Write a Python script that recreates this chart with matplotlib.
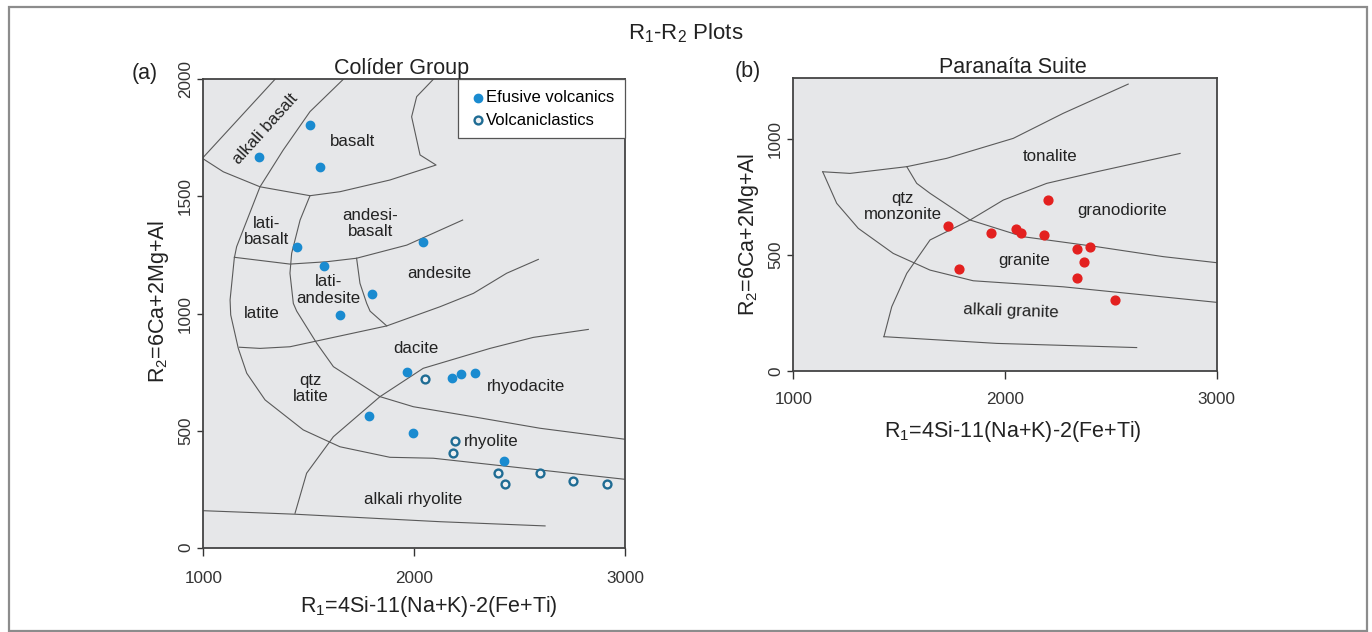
import numpy as np
import matplotlib.pyplot as plt
from matplotlib.patches import Rectangle

plt.rcParams['font.family'] = ['Liberation Sans', 'DejaVu Sans']
plt.rcParams['mathtext.default'] = 'regular'

# ---- Colider Group (a): classification field boundaries (R1, R2) ----
a_alk_basalt = [(1000, 1667), (1340, 2000)]
a_outer = [(1664, 2000), (1506, 1862), (1379, 1698), (1269, 1541), (1158, 1285),
           (1147, 1236), (1127, 1058), (1130, 994), (1166, 851), (1206, 745),
           (1293, 631), (1474, 503), (1648, 431), (1885, 386), (2091, 382), (3000, 292)]
a_basalt_low = [(1000, 1660), (1095, 1605), (1269, 1541), (1506, 1503), (1648, 1520),
                (1885, 1570), (2104, 1634), (2028, 1677), (1988, 1840), (2012, 1926),
                (2091, 2000)]
a_andesi_left = [(1506, 1503), (1459, 1399), (1419, 1257), (1411, 1172), (1427, 1043),
                 (1443, 1010), (1538, 873), (1617, 773), (1838, 645), (1996, 602),
                 (2281, 559), (2597, 510), (3000, 463)]
a_latite_top = [(1147, 1240), (1411, 1211), (1585, 1221), (1727, 1236), (1965, 1292),
                (2230, 1399)]
a_latiand_right = [(1727, 1236), (1743, 1129), (1775, 1043), (1791, 1010), (1870, 947)]
a_dacite_top = [(1171, 856), (1269, 851), (1411, 858), (1870, 947), (2123, 1029),
                (2281, 1086), (2439, 1172), (2589, 1231)]
a_rhyolite_left = [(2826, 932), (2565, 898), (2360, 851), (2043, 766), (1838, 645),
                   (1617, 474), (1490, 318), (1435, 147)]
a_bottom = [(1000, 158), (1435, 143), (2123, 111), (2621, 93)]

a_lines = [a_alk_basalt, a_outer, a_basalt_low, a_andesi_left, a_latite_top,
           a_latiand_right, a_dacite_top, a_rhyolite_left, a_bottom]

# samples
efusive_r1 = [1266, 1506, 1555, 1443, 2040, 1572, 1798, 1648, 1968, 2181, 2222, 2289,
              1787, 1993, 2426]
efusive_r2 = [1667, 1805, 1627, 1283, 1305, 1204, 1083, 992, 750, 725, 743, 747,
              561, 488, 370]
clastic_r1 = [2053, 2192, 2183, 2398, 2431, 2597, 2755, 2913]
clastic_r2 = [719, 457, 403, 318, 272, 318, 285, 272]

a_labels = [('basalt', 1707, 1734), ('lati-\nbasalt', 1300, 1349),
            ('andesi-\nbasalt', 1791, 1385), ('andesite', 2118, 1172),
            ('lati-\nandesite', 1593, 1100), ('latite', 1277, 998),
            ('dacite', 2009, 851), ('qtz\nlatite', 1509, 681),
            ('rhyodacite', 2529, 688), ('rhyolite', 2368, 453),
            ('alkali rhyolite', 1996, 204)]

# ---- Paranaita Suite (b) ----
b_top = [(1139, 859), (1268, 852), (1536, 881), (1725, 917), (2039, 1003),
         (2275, 1111), (2582, 1237)]
b_outer = [(1139, 859), (1205, 723), (1307, 615), (1472, 507), (1646, 435),
           (1850, 389), (2275, 363), (3000, 296)]
b_tonalite_low = [(1536, 881), (1583, 809), (1646, 766), (1835, 651), (2086, 579),
                  (2433, 536), (2748, 493), (3000, 467)]
b_granite_left = [(1428, 148), (1465, 277), (1536, 421), (1646, 565), (1835, 651),
                  (1992, 737), (2197, 809), (2433, 859), (2827, 938)]
b_bottom = [(1428, 148), (1961, 119), (2622, 101)]
b_lines = [b_top, b_outer, b_tonalite_low, b_granite_left, b_bottom]

granite_r1 = [2205, 1729, 1932, 2052, 2074, 2184, 2339, 2402, 2375, 1783, 2342, 2521]
granite_r2 = [737, 625, 595, 612, 596, 586, 527, 536, 470, 440, 400, 307]

b_labels = [('tonalite', 2213, 924), ('qtz\nmonzonite', 1517, 708),
            ('granodiorite', 2554, 691), ('granite', 2090, 475)]

bg = '#e6e7e9'
line_c = '#5a5a5a'
tick_c = '#333333'
txt_c = '#222222'
lab_fs = 12.2


def style_axes(ax, ymax, yticks, xpad, xlabelpad, xlab_x, ylab_y):
    ax.set_facecolor(bg)
    ax.set_xlim(1000, 3000)
    ax.set_ylim(0, ymax)
    ax.set_xticks([1000, 2000, 3000])
    ax.set_yticks(yticks)
    ax.tick_params(direction='out', width=1, colors=tick_c, labelsize=12.3)
    ax.tick_params(axis='x', length=6, pad=xpad)
    ax.tick_params(axis='y', length=4.5, pad=3)
    for lab in ax.get_yticklabels():
        lab.set_rotation(90)
        lab.set_va('center')
    for s in ax.spines.values():
        s.set_color('#444444')
        s.set_linewidth(1.3)
    ax.set_xlabel('R$_1$=4Si-11(Na+K)-2(Fe+Ti)', fontsize=15.5, color=txt_c,
                  labelpad=xlabelpad)
    ax.set_ylabel('R$_2$=6Ca+2Mg+Al', fontsize=15.5, color=txt_c, labelpad=5)
    ax.xaxis.label.set_x(xlab_x)
    ax.yaxis.label.set_y(ylab_y)


fig = plt.figure(figsize=(13.72, 6.32), dpi=100)

# frame around the whole figure
fig.add_artist(Rectangle((9 / 1372, 0.002), 1358 / 1372, 1 - 7 / 632 - 0.002,
                         transform=fig.transFigure, fill=False,
                         edgecolor='#8c8c8c', linewidth=1.6))
fig.text(0.5, 1 - 33 / 632, 'R$_1$-R$_2$ Plots', ha='center', va='center',
         fontsize=16, color=txt_c)

# panel a
ax1 = fig.add_axes([203.3 / 1372, 1 - 547.7 / 632, 421.7 / 1372, 468.4 / 632])
style_axes(ax1, 2000, [0, 500, 1000, 1500, 2000], 10.5, 6, 0.535, 0.526)
for ln in a_lines:
    xs, ys = zip(*ln)
    ax1.plot(xs, ys, color=line_c, lw=0.8)
ax1.scatter(efusive_r1, efusive_r2, s=36, color='#1a8bd0', zorder=3,
            label='Efusive volcanics')
ax1.scatter(clastic_r1, clastic_r2, s=32, facecolor='#eef0f2', edgecolor='#1f6c94',
            linewidth=1.7, zorder=3, label='Volcaniclastics')
for txt, x, y in a_labels:
    ax1.text(x, y, txt, ha='center', va='center', fontsize=lab_fs, color=txt_c,
             linespacing=1.1)
ax1.text(1293, 1790, 'alkali basalt', ha='center', va='center', rotation=48,
         fontsize=lab_fs, color=txt_c)
ax1.set_title('Colíder Group', fontsize=15.5, color=txt_c, pad=4, x=0.469)
fig.text(145 / 1372, 1 - 73 / 632, '(a)', ha='center', va='center', fontsize=15.5,
         color=txt_c)
leg = ax1.legend(loc='upper right', fontsize=12, frameon=True, fancybox=False,
                 handletextpad=0.0, handlelength=1.0, borderpad=0.65,
                 borderaxespad=0, labelspacing=0.45)
leg.get_frame().set_edgecolor('#555555')
leg.get_frame().set_linewidth(0.9)
leg.get_frame().set_alpha(1)

# panel b
ax2 = fig.add_axes([793.3 / 1372, 1 - 371 / 632, 423.4 / 1372, 292.7 / 632])
style_axes(ax2, 1262, [0, 500, 1000], 9, 9, 0.519, 0.466)
for ln in b_lines:
    xs, ys = zip(*ln)
    ax2.plot(xs, ys, color=line_c, lw=0.8)
ax2.scatter(granite_r1, granite_r2, s=40, color='#e3201f', zorder=3)
for txt, x, y in b_labels:
    ax2.text(x, y, txt, ha='center', va='center', fontsize=lab_fs, color=txt_c,
             linespacing=1.1)
ax2.text(2027, 260, 'alkali granite', ha='center', va='center', rotation=-2,
         fontsize=lab_fs, color=txt_c)
ax2.set_title('Paranaíta Suite', fontsize=15.5, color=txt_c, pad=4, x=0.519)
fig.text(748 / 1372, 1 - 72 / 632, '(b)', ha='center', va='center', fontsize=15.5,
         color=txt_c)

fig.savefig('out.png', dpi=100)
